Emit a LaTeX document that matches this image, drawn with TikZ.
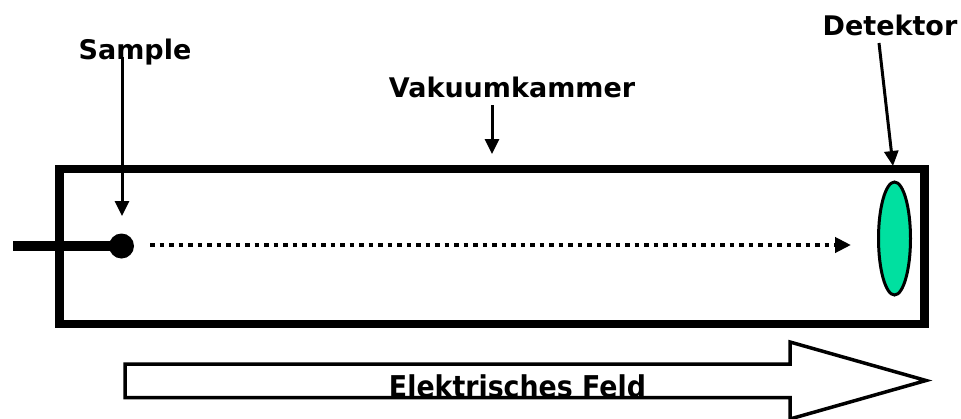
\documentclass[tikz,border=0pt]{standalone}
\usepackage{fontspec}
\usepackage{graphicx}
\setmainfont{DejaVu Sans}
\usetikzlibrary{arrows.meta,shapes.geometric}
\definecolor{detgreen}{RGB}{0,224,160}
\tikzset{
  lbl/.style={font=\fontsize{27}{27}\selectfont\bfseries, inner sep=0pt, anchor=base},
  pointer/.style={line width=3pt, -{Triangle[length=15pt,width=14pt]}},
  wall/.style={line width=8.5pt},
}
\begin{document}
\begin{tikzpicture}[x=1pt,y=-1pt]
\useasboundingbox (0,0) rectangle (961,418);
% chamber
\draw[wall] (59.5,169) rectangle (924.5,324);
% sample rod and sample
\coordinate (rodend) at (13,246);
\node[circle, fill=black, minimum size=25pt, inner sep=0pt] (sample) at (121.5,246) {};
\draw[line width=10pt] (rodend) -- (sample.center);
% flight path
\coordinate (pathstart) at (150,245);
\coordinate (pathend) at (851,245);
\draw[line width=4.5pt, dash pattern=on 4.5pt off 5pt, -{Triangle[length=16pt,width=15pt]}] (pathstart) -- (pathend);
% detector
\node[ellipse, draw=black, line width=3pt, fill=detgreen, minimum width=32pt, minimum height=113pt, inner sep=0pt] (det) at (894.5,238.5) {};
% labels
\node[lbl] (tsample) at (135,59) {Sample};
\node[lbl] (tvak) at (512,97) {Vakuumkammer};
\node[lbl] (tdet) at (890,35) {Detektor};
% pointers
\coordinate (sampletip) at (122,216);
\coordinate (vaktip) at (492,154);
\coordinate (dettip) at (893,166);
\draw[pointer] (122,57) -- (sampletip);
\draw[pointer] (492,105) -- (vaktip);
\draw[pointer] (879,43) -- (dettip);
% field arrow
\draw[line width=3.5pt, miter limit=10] (125,364) -- (790,364) -- (790,342) -- (926,380.5) -- (790,419) -- (790,397.5) -- (125,397.5) -- cycle;
\node[inner sep=0pt, anchor=base] (field) at (517.5,397) {\resizebox{257pt}{\height}{\fontsize{30}{30}\selectfont\bfseries Elektrisches Feld}};
\end{tikzpicture}
\end{document}
